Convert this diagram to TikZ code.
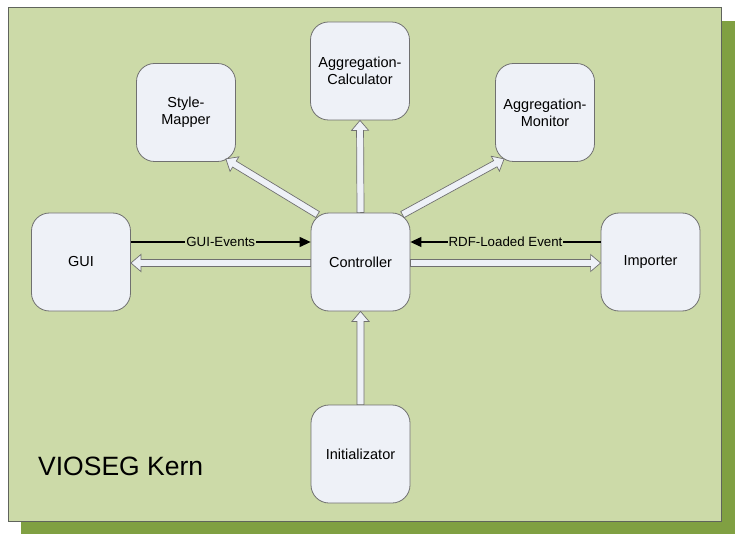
\documentclass[tikz,border=0pt]{standalone}
\usepackage{fontspec}
\setmainfont{Liberation Sans}
\usetikzlibrary{calc,arrows.meta}

\definecolor{paneltop}{RGB}{204,218,168}
\definecolor{panelshade}{RGB}{128,160,66}
\definecolor{panelline}{RGB}{96,100,92}
\definecolor{boxfill}{RGB}{238,241,247}
\definecolor{boxline}{RGB}{112,112,112}

\tikzset{
  box/.style={draw=boxline, fill=boxfill, line width=0.8pt, rounded corners=18pt,
    minimum width=99pt, minimum height=98pt, inner sep=0pt, align=center,
    font=\fontsize{14.5}{17}\selectfont},
  hollow/.style={draw=boxline, fill=boxfill, line width=0.7pt, line join=miter},
  evt/.style={draw=black, line width=1.2pt, -{Triangle[length=11pt,width=10pt]}},
  evtlabel/.style={fill=paneltop, inner sep=1pt, font=\fontsize{13.3}{15}\selectfont}
}

% block arrow with a hollow shaft and head, from #1 to #2
\newcommand\hollowarrow[2]{%
  \coordinate (ha-s) at (#1);
  \coordinate (ha-e) at (#2);
  \coordinate (ha-n) at ($(ha-e)!10pt!(ha-s)$);
  \draw[hollow] ($(ha-s)!3.5pt!90:(ha-e)$) -- ($(ha-n)!3.5pt!90:(ha-e)$)
    -- ($(ha-n)!8.5pt!90:(ha-e)$) -- (ha-e) -- ($(ha-n)!8.5pt!-90:(ha-e)$)
    -- ($(ha-n)!3.5pt!-90:(ha-e)$) -- ($(ha-s)!3.5pt!-90:(ha-e)$) -- cycle;
}

\begin{document}
\begin{tikzpicture}[x=1pt,y=-1pt]
  \useasboundingbox (0,0) rectangle (735,534);

  % panel with its drop shadow
  \fill[panelshade] (21,21) rectangle (735,534);
  \draw[fill=paneltop, draw=panelline, line width=1pt] (8,8) rectangle (721,521);

  % components
  \node[box] (calc) at (360,71)    {Aggregation-\\Calculator};
  \node[box] (style) at (186,112.5) {Style-\\Mapper};
  \node[box] (mon) at (545,112.5)  {Aggregation-\\Monitor};
  \node[box] (gui) at (81,262)     {GUI};
  \node[box] (ctrl) at (360.5,262) {Controller};
  \node[box] (imp) at (650.5,262)  {Importer};
  \node[box] (init) at (360.5,454) {Initializator};

  % calls issued by the controller and the initializer
  \hollowarrow{ctrl.north}{calc.south}
  \hollowarrow{$(ctrl.north west)+(7,2)$}{$(style.south east)+(-10,-3)$}
  \hollowarrow{$(ctrl.north east)+(-8,2)$}{$(mon.south west)+(9,-3)$}
  \hollowarrow{$(ctrl.west)+(0,1)$}{$(gui.east)+(0,1)$}
  \hollowarrow{$(ctrl.east)+(0,1)$}{$(imp.west)+(0,1)$}
  \hollowarrow{init.north}{ctrl.south}

  % events reported back to the controller
  \draw[evt] ($(gui.east)+(0,-20)$) -- node[evtlabel] {GUI-Events} ($(ctrl.west)+(0,-20)$);
  \draw[evt] ($(imp.west)+(0,-20)$) -- node[evtlabel] {RDF-Loaded Event} ($(ctrl.east)+(0,-20)$);

  \node[anchor=base west, inner sep=0pt, font=\fontsize{26.5}{30}\selectfont] (title) at (38,475) {VIOSEG Kern};
\end{tikzpicture}
\end{document}
